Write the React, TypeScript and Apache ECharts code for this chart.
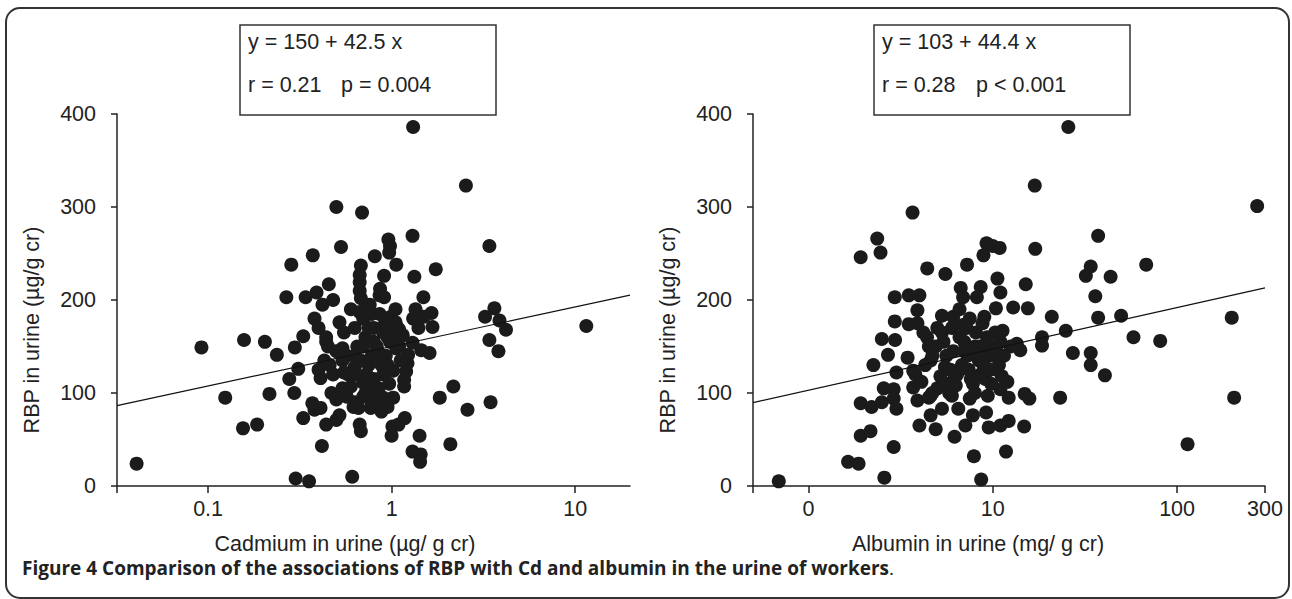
import React, { useEffect, useRef } from "react";
import * as echarts from "echarts";

// ---------- data ----------
// Left panel: Cadmium in urine (µg/g cr) vs RBP in urine (µg/g cr)
const cdValues = [
  1.31, 2.54, 0.5, 0.69, 1.3, 0.96, 0.98, 0.97, 3.41, 0.53, 0.372, 0.81, 0.284, 0.68, 1.06, 1.74, 0.67, 0.91, 1.33, 0.455,
  0.67, 0.39, 0.67, 0.865, 0.267, 0.34, 1.49, 0.91, 0.68, 0.86, 1.65, 0.38, 1.31, 3.63, 3.23, 3.87, 4.2, 11.5, 0.52, 1.67,
  0.63, 0.092, 0.157, 0.204, 0.237, 0.297, 0.33, 3.41, 3.82, 1.61, 1.45, 1.3, 0.31, 0.277, 0.124, 0.216, 0.295, 0.155, 0.185, 0.0408,
  0.3, 0.355, 0.61, 0.417, 2.17, 1.83, 2.59, 3.46, 2.09, 1.42, 1.3, 1.44, 1.43, 1.0, 1.01, 1.18, 1.09, 0.44, 0.5, 0.33,
  0.38, 0.41, 0.37, 0.67, 0.68, 0.77, 0.88, 1.02, 1.17, 1.17, 1.2, 1.02, 1.22, 1.23, 1.06, 0.47, 0.5, 0.57, 0.54, 0.6,
  0.7, 0.78, 0.82, 0.7, 0.4, 0.44, 0.46, 0.48, 0.42, 0.48, 0.5, 0.55, 0.57, 0.6, 0.62, 0.65, 0.7, 0.72, 0.75, 0.76,
  0.8, 0.8, 0.83, 0.86, 0.9, 0.9, 0.93, 0.95, 0.97, 0.98, 1.0, 1.03, 1.05, 1.08, 0.85, 0.9, 0.95, 0.62, 0.58, 0.73,
  0.78, 0.88, 0.67, 0.72, 0.78, 0.99, 1.05, 1.1, 1.15, 1.02, 0.8, 0.84, 0.88, 0.63, 0.63, 0.64, 0.54, 0.54, 0.55, 0.44,
  0.45, 0.43, 0.4, 0.41, 0.63, 0.66, 0.78, 0.52, 1.35, 1.5, 1.4, 0.92, 0.95, 0.75, 0.7, 0.68, 0.75, 0.72, 0.85, 0.95,
  1.1, 1.12,
];
const rbpCd = [
  386, 323, 300, 294, 269, 265, 258, 251, 258, 257, 248, 247, 238, 237, 238, 233, 227, 226, 225, 217,
  219, 208, 210, 212, 203, 203, 203, 203, 202, 205, 186, 180, 180, 191, 182, 178, 168, 172, 176, 171,
  170, 149, 157, 155, 141, 149, 161, 157, 145, 143, 146, 154, 126, 115, 95, 99, 100, 62, 66, 24,
  8, 5, 10, 43, 107, 95, 82, 90, 45, 54, 37, 34, 26, 54, 64, 73, 66, 66, 71, 73,
  82, 84, 89, 66, 59, 84, 80, 95, 107, 114, 123, 124, 132, 141, 148, 100, 93, 96, 105, 107,
  111, 107, 102, 96, 170, 155, 130, 120, 195, 200, 145, 165, 140, 190, 125, 150, 180, 160, 130, 195,
  115, 170, 150, 185, 120, 165, 140, 180, 110, 155, 175, 160, 190, 170, 90, 95, 85, 85, 120, 120,
  140, 130, 187, 190, 185, 182, 176, 168, 162, 170, 155, 145, 138, 140, 128, 120, 148, 135, 122, 160,
  150, 135, 125, 116, 90, 84, 89, 76, 190, 182, 170, 175, 160, 170, 150, 135, 110, 100, 105, 130,
  150, 135,
];

// Right panel: Albumin in urine (mg/g cr) vs RBP in urine (µg/g cr)
const albValues = [
  25.7, 16.9, 3.67, 272, 37.3, 2.36, 2.46, 1.92, 9.25, 10, 10.9, 8.9, 17, 4.41, 5.53, 7.25, 10.6, 15.1, 34, 32,
  43.6, 68, 6.7, 8.6, 11.0, 2.94, 3.5, 4.0, 36, 6.9, 8.2, 3.9, 3.5, 2.94, 5.3, 6.1, 6.9, 9.0, 10.4, 12.9,
  15.5, 20.9, 37.3, 49.7, 198, 24.9, 18.5, 18.5, 58, 81, 27.2, 34, 34, 40.6, 23.2, 204, 114, 14.1, 13.5, 11.3,
  11, 2.25, 2.5, 2.95, 2.7, 3.45, 3.0, 3.7, 3.7, 2.56, 2.9, 2.9, 3.0, 1.92, 2.2, 2.5, 1.92, 2.17, 1.64, 1.87,
  2.58, 2.9, 0.69, 8.65, 7.9, 11.8, 4.0, 4.9, 6.2, 4.6, 5.3, 6.5, 7.1, 7.8, 9.2, 9.5, 11, 12.2, 14.8, 14.9,
  15.8, 12.2, 11, 9.4, 7.5, 3.9, 4.6, 3.8, 4.1, 4.6, 4.9, 5.3, 5.5, 5.8, 6.1, 6.4, 6.8, 7.0, 7.3, 7.6,
  8.0, 8.4, 8.6, 9.0, 9.3, 9.6, 10.0, 10.5, 11.2, 12.0, 12.5, 6.0, 7.5, 5.0, 8.0, 9.8, 4.4, 3.9, 4.2, 4.5,
  4.7, 4.3, 5.0, 5.4, 5.6, 5.9, 6.2, 5.2, 6.6, 7.0, 7.4, 7.8, 8.1, 8.5, 8.9, 9.1, 9.4, 10.2, 10.8, 8.3,
  9.7, 10.5, 5.8, 6.3, 6.0, 4.5, 4.7, 7.2, 6.6, 8.8, 10.3, 11.5,
];
const rbpAlb = [
  386, 323, 294, 301, 269, 266, 251, 246, 261, 258, 256, 248, 255, 234, 228, 238, 223, 217, 236, 226,
  225, 238, 213, 214, 208, 203, 205, 205, 204, 203, 203, 189, 174, 177, 183, 182, 173, 182, 191, 192,
  191, 182, 181, 183, 181, 167, 160, 151, 160, 156, 143, 143, 130, 119, 95, 95, 45, 146, 153, 167,
  155, 130, 158, 157, 141, 138, 122, 124, 106, 105, 104, 94, 83, 89, 85, 90, 54, 59, 26, 24,
  9, 42, 5, 7, 32, 37, 65, 61, 53, 76, 83, 83, 65, 76, 79, 63, 65, 70, 64, 99,
  94, 95, 104, 97, 94, 92, 97, 120, 112, 135, 150, 165, 128, 110, 145, 120, 130, 155, 140, 115,
  150, 135, 120, 145, 160, 140, 150, 125, 118, 112, 150, 170, 180, 105, 100, 110, 160, 175, 165, 150,
  140, 130, 170, 155, 140, 125, 115, 118, 160, 145, 125, 110, 165, 150, 130, 115, 145, 140, 130, 140,
  125, 145, 100, 108, 97, 95, 100, 170, 190, 175, 165, 140,
];

// Axis extents and ticks (original units)
const cdAxisMin = 0.0319;
const cdAxisMax = 19.9;
const cdTickValues = [0.1, 1, 10];
const cdTickLabels = ["0.1", "1", "10"];
const albAxisMin = 0.5;
const albAxisMax = 300;
const albTickValues = [1, 10, 100, 300];
const albTickLabels = ["0", "10", "100", "300"];
const rbpMin = 0;
const rbpMax = 400;
const rbpInterval = 100;

// Regression (x = log10 of concentration)
const fitCd = { a: 150, b: 42.5 };
const fitAlb = { a: 103, b: 44.4 };

const boxLeftLines = ["y = 150 + 42.5 x", "r = 0.21", "p = 0.004"];
const boxRightLines = ["y = 103 + 44.4 x", "r = 0.28", "p < 0.001"];

const FONT = "'Liberation Sans', Arial, Helvetica, sans-serif";
const INK = "#222";
const FS = 21.5;

export default function App() {
  const ref = useRef<HTMLDivElement>(null);

  useEffect(() => {
    if (!ref.current) return;
    const chart = echarts.init(ref.current, null, { renderer: "svg" });
    const lg = Math.log10;

    const mkX = (
      gridIndex: number,
      min: number,
      max: number,
      ticks: number[],
      labels: string[],
      name: string,
      shift: number,
      startTick: boolean,
      endTick: boolean
    ) => {
      const tickPos = ticks.map(lg);
      const tickMarks = [...(startTick ? [lg(min)] : []), ...tickPos.filter((t) => t < lg(max) - 1e-9), ...(endTick ? [lg(max)] : [])];
      return {
        type: "value",
        gridIndex,
        min: lg(min),
        max: lg(max),
        axisLine: { show: true, onZero: false, lineStyle: { color: INK, width: 1.5 } },
        axisTick: { show: true, length: 7, customValues: tickMarks, lineStyle: { color: INK, width: 1.5 } },
        axisLabel: {
          customValues: tickPos,
          margin: 12,
          fontSize: FS,
          fontFamily: FONT,
          color: INK,
          formatter: (v: number) => {
            const i = tickPos.findIndex((t) => Math.abs(t - v) < 1e-6);
            return i >= 0 ? labels[i] : "";
          },
        },
        splitLine: { show: false },
        name,
        nameLocation: "middle",
        nameGap: 47,
        nameTextStyle: { fontSize: FS, fontFamily: FONT, color: INK, padding: [0, shift, 0, 0] },
      };
    };

    const mkY = (gridIndex: number) => ({
      type: "value",
      gridIndex,
      min: rbpMin,
      max: rbpMax,
      interval: rbpInterval,
      axisLine: { show: true, onZero: false, lineStyle: { color: INK, width: 1.5 } },
      axisTick: { show: true, length: 6, lineStyle: { color: INK, width: 1.5 } },
      axisLabel: { margin: 21, fontSize: FS, fontFamily: FONT, color: INK },
      splitLine: { show: false },
      name: "RBP in urine (µg/g cr)",
      nameLocation: "middle",
      nameGap: 74,
      nameTextStyle: { fontSize: FS, fontFamily: FONT, color: INK, padding: [0, 60, 0, 0] },
    });

    const fitLine = (fit: { a: number; b: number }, min: number, max: number) => [
      [lg(min), fit.a + fit.b * lg(min)],
      [lg(max), fit.a + fit.b * lg(max)],
    ];

    const box = (x: number, lines: string[], pX: number) => ({
      type: "group",
      children: [
        { type: "rect", shape: { x, y: 25, width: 256, height: 90 }, style: { fill: "#fff", stroke: "#333", lineWidth: 1.5 } },
        { type: "text", x: x + 8, y: 42, style: { text: lines[0], font: `${FS}px ${FONT}`, fill: INK, verticalAlign: "middle" } },
        { type: "text", x: x + 8, y: 85, style: { text: lines[1], font: `${FS}px ${FONT}`, fill: INK, verticalAlign: "middle" } },
        { type: "text", x: pX, y: 85, style: { text: lines[2], font: `${FS}px ${FONT}`, fill: INK, verticalAlign: "middle" } },
      ],
    });

    const dotStyle = { color: "#1b1b1b", opacity: 1 };

    chart.setOption({
      animation: false,
      backgroundColor: "#fff",
      grid: [
        { left: 117, top: 114, width: 513, height: 372 },
        { left: 753, top: 114, width: 512, height: 372 },
      ],
      xAxis: [
        mkX(0, cdAxisMin, cdAxisMax, cdTickValues, cdTickLabels, "Cadmium in urine (µg/ g cr)", 57, true, false),
        mkX(1, albAxisMin, albAxisMax, albTickValues, albTickLabels, "Albumin in urine (mg/ g cr)", 62, true, true),
      ],
      yAxis: [mkY(0), mkY(1)],
      series: [
        {
          type: "scatter",
          xAxisIndex: 0,
          yAxisIndex: 0,
          symbolSize: 14,
          itemStyle: dotStyle,
          data: cdValues.map((v, i) => [lg(v), rbpCd[i]]),
        },
        {
          type: "scatter",
          xAxisIndex: 1,
          yAxisIndex: 1,
          symbolSize: 14,
          itemStyle: dotStyle,
          data: albValues.map((v, i) => [lg(v), rbpAlb[i]]),
        },
        {
          type: "line",
          xAxisIndex: 0,
          yAxisIndex: 0,
          symbol: "none",
          lineStyle: { color: "#111", width: 1.2 },
          data: fitLine(fitCd, cdAxisMin, cdAxisMax),
        },
        {
          type: "line",
          xAxisIndex: 1,
          yAxisIndex: 1,
          symbol: "none",
          lineStyle: { color: "#111", width: 1.2 },
          data: fitLine(fitAlb, albAxisMin, albAxisMax),
        },
      ],
      graphic: [
        {
          type: "rect",
          shape: { x: 6, y: 8, width: 1283, height: 590, r: 14 },
          style: { fill: "none", stroke: "#333", lineWidth: 2 },
          z: -1,
        },
        box(240, boxLeftLines, 341),
        box(874, boxRightLines, 976),
        {
          type: "text",
          x: 22,
          y: 568,
          style: {
            text: "{b|Figure 4 Comparison of the associations of RBP with Cd and albumin in the urine of workers}{n|.}",
            verticalAlign: "middle",
            rich: {
              b: { fontFamily: "'Open Sans', Lato, sans-serif", fontWeight: "bold", fontSize: 19, fill: "#222" },
              n: { fontFamily: "'Open Sans', Lato, sans-serif", fontWeight: "normal", fontSize: 19, fill: "#222" },
            },
          },
        },
      ],
    });

    return () => chart.dispose();
  }, []);

  return <div ref={ref} style={{ position: "absolute", left: 0, top: 0, width: 1292, height: 599 }} />;
}
